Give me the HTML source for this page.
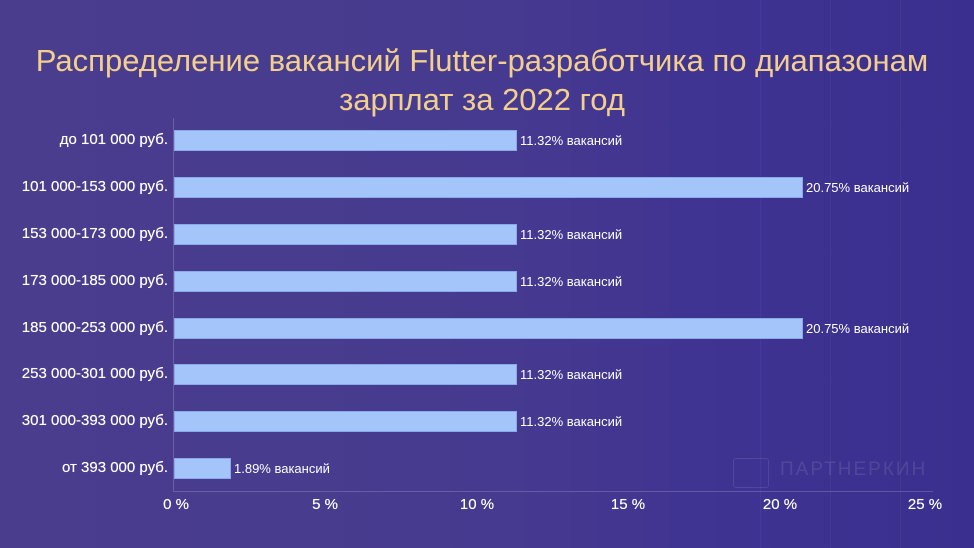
<!DOCTYPE html>
<html><head><meta charset="utf-8"><style>
*{margin:0;padding:0}
body{width:974px;height:548px;overflow:hidden;position:relative;font-family:"Liberation Sans",sans-serif;
background:linear-gradient(90deg,#4a3d8e 0%,#473b8f 45%,#3f3392 75%,#3a2f8e 100%)}
.t{position:absolute;left:0;width:964px;text-align:center;color:#f3cf8e;font-size:31px;white-space:nowrap}
.lab{position:absolute;right:806px;color:#fff;font-size:15px;white-space:nowrap;line-height:20px;text-shadow:0 0 0.4px #fff}
.bar{position:absolute;left:174px;height:21px;background:#a4c5f9;box-shadow:0 0 0 1px #8aa9e8 inset}
.v{position:absolute;color:#fff;font-size:13px;white-space:nowrap;line-height:20px}
.tk{position:absolute;top:496px;color:#fff;font-size:15px;width:60px;text-align:center;margin-left:-30px;text-shadow:0 0 0.4px #fff}
.ln{position:absolute;background:rgba(255,255,255,0.04);width:1px;top:0;height:548px}
</style></head><body>
<div class="ln" style="left:760px"></div><div class="ln" style="left:830px"></div><div class="ln" style="left:900px"></div>
<div class="t" style="top:43px">Распределение вакансий Flutter-разработчика по диапазонам</div>
<div class="t" style="top:82px">зарплат за 2022 год</div>
<div style="position:absolute;left:173px;top:118px;width:1px;height:373px;background:rgba(255,255,255,0.18)"></div>
<div style="position:absolute;left:173px;top:491px;width:760px;height:1px;background:rgba(255,255,255,0.18)"></div>

<div class="lab" style="top:130px">до 101 000 руб.</div>
<div class="bar" style="top:130px;width:343px"></div><div class="v" style="left:520px;top:131px">11.32% вакансий</div>
<div class="lab" style="top:177px">101 000-153 000 руб.</div>
<div class="bar" style="top:177px;width:629px"></div><div class="v" style="left:806px;top:178px">20.75% вакансий</div>
<div class="lab" style="top:224px">153 000-173 000 руб.</div>
<div class="bar" style="top:224px;width:343px"></div><div class="v" style="left:520px;top:225px">11.32% вакансий</div>
<div class="lab" style="top:271px">173 000-185 000 руб.</div>
<div class="bar" style="top:271px;width:343px"></div><div class="v" style="left:520px;top:272px">11.32% вакансий</div>
<div class="lab" style="top:318px">185 000-253 000 руб.</div>
<div class="bar" style="top:318px;width:629px"></div><div class="v" style="left:806px;top:319px">20.75% вакансий</div>
<div class="lab" style="top:364px">253 000-301 000 руб.</div>
<div class="bar" style="top:364px;width:343px"></div><div class="v" style="left:520px;top:365px">11.32% вакансий</div>
<div class="lab" style="top:411px">301 000-393 000 руб.</div>
<div class="bar" style="top:411px;width:343px"></div><div class="v" style="left:520px;top:412px">11.32% вакансий</div>
<div class="lab" style="top:458px">от 393 000 руб.</div>
<div class="bar" style="top:458px;width:57px"></div><div class="v" style="left:234px;top:459px">1.89% вакансий</div>

<div class="tk" style="left:176px">0 %</div>
<div class="tk" style="left:325px">5 %</div>
<div class="tk" style="left:477px">10 %</div>
<div class="tk" style="left:628px">15 %</div>
<div class="tk" style="left:780px">20 %</div>
<div class="tk" style="left:925px">25 %</div>

<div style="position:absolute;left:733px;top:458px;width:34px;height:28px;border:1px solid rgba(255,255,255,0.1);border-radius:3px"></div>
<div style="position:absolute;left:780px;top:459px;color:rgba(255,255,255,0.1);font-size:19px;letter-spacing:2px">ПАРТНЕРКИН</div>
</body></html>
